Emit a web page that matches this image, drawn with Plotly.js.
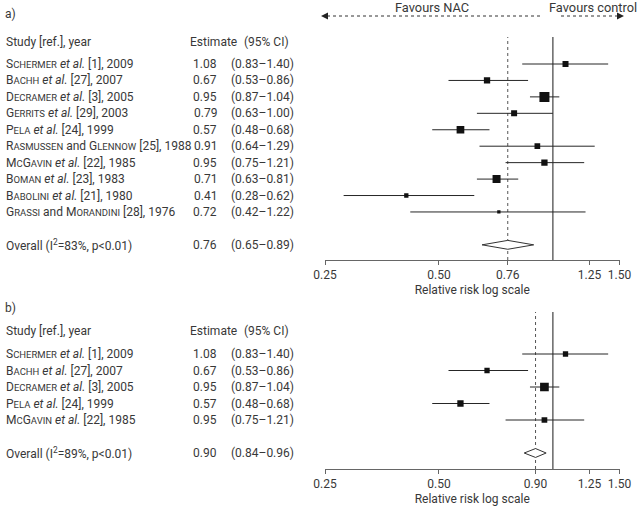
<!DOCTYPE html>
<html>
<head>
<meta charset="utf-8">
<script src="https://cdn.plot.ly/plotly-3.0.1.min.js"></script>
<style>html,body{margin:0;padding:0;background:#fff;}#chart{width:640px;height:506px;}</style>
</head>
<body>
<div id="chart"></div>
<script>
// ---------- Data: panel a ----------
const studiesA = ["Schermer et al. [1], 2009", "Bachh et al. [27], 2007", "Decramer et al. [3], 2005",
  "Gerrits et al. [29], 2003", "Pela et al. [24], 1999", "Rasmussen and Glennow [25], 1988",
  "McGavin et al. [22], 1985", "Boman et al. [23], 1983", "Babolini et al. [21], 1980",
  "Grassi and Morandini [28], 1976"];
const estA = [1.08, 0.67, 0.95, 0.79, 0.57, 0.91, 0.95, 0.71, 0.41, 0.72];
const loA  = [0.83, 0.53, 0.87, 0.63, 0.48, 0.64, 0.75, 0.63, 0.28, 0.42];
const hiA  = [1.40, 0.86, 1.04, 1.00, 0.68, 1.29, 1.21, 0.81, 0.62, 1.22];
const weightA = [6.0, 6.3, 10.0, 6.0, 7.7, 5.7, 6.3, 8.0, 4.3, 3.3];
const overallEstA = 0.76, overallLoA = 0.65, overallHiA = 0.89, i2A = 83;
const ticksA = [0.25, 0.50, 0.76, 1.25, 1.50];

// ---------- Data: panel b ----------
const studiesB = ["Schermer et al. [1], 2009", "Bachh et al. [27], 2007", "Decramer et al. [3], 2005",
  "Pela et al. [24], 1999", "McGavin et al. [22], 1985"];
const estB = [1.08, 0.67, 0.95, 0.57, 0.95];
const loB  = [0.83, 0.53, 0.87, 0.48, 0.75];
const hiB  = [1.40, 0.86, 1.04, 0.68, 1.21];
const weightB = [5.3, 5.3, 8.7, 6.3, 5.7];
const overallEstB = 0.90, overallLoB = 0.84, overallHiB = 0.96, i2B = 89;
const ticksB = [0.25, 0.50, 0.90, 1.25, 1.50];

// ---------- Helpers ----------
const W = 640, H = 506;
const px = x => x / W;
const py = y => 1 - y / H;
const FONT = "Roboto, 'Open Sans', sans-serif";
const TXT = "#383838";
const FS = 12;
const SC = 9.5; // small caps size

function smallCaps(word) {
  let out = "";
  const runs = word.match(/[A-Z]+|[a-z]+/g) || [];
  runs.forEach(r => {
    if (r === r.toUpperCase()) out += r;
    else out += "<span style='font-size:" + SC + "px'>" + r.toUpperCase() + "</span>";
  });
  return out;
}
function fmtLabel(s) {
  const idx = s.indexOf("[");
  let head = s.slice(0, idx), tail = s.slice(idx);
  head = head.replace("et al.", "<i>et al.</i>");
  head = head.replace(/\b([A-Z][A-Za-z]+)\b/g, m => smallCaps(m));
  return head + tail;
}
const f2 = v => v.toFixed(2);

const traces = [];
const annotations = [];
const shapes = [];

function buildPanel(opts) {
  const {studies, est, lo, hi, weight, oEst, oLo, oHi, i2, xa, ya, yName, overallRow} = opts;
  const rows = studies.map((_, i) => i);
  // CI lines (null-separated segments)
  const cx = [], cy = [];
  rows.forEach(i => { cx.push(lo[i], hi[i], null); cy.push(i, i, null); });
  traces.push({
    type: "scatter", mode: "lines", xaxis: xa, yaxis: ya, x: cx, y: cy,
    line: {color: "#262626", width: 1}, connectgaps: false,
    hoverinfo: "skip", showlegend: false
  });
  traces.push({
    type: "scatter", mode: "markers", xaxis: xa, yaxis: ya,
    x: est, y: rows,
    marker: {symbol: "square", color: "#111111", size: weight, line: {width: 0}, opacity: 1},
    hoverinfo: "skip", showlegend: false
  });
  const h = 0.27;
  traces.push({
    type: "scatter", mode: "lines", xaxis: xa, yaxis: ya,
    x: [oLo, oEst, oHi, oEst, oLo], y: [overallRow, overallRow - h, overallRow, overallRow + h, overallRow],
    fill: "toself", fillcolor: "#ffffff", line: {color: "#333", width: 1},
    hoverinfo: "skip", showlegend: false
  });
  // text columns
  const all = studies.map((s, i) => ({lab: fmtLabel(s), e: est[i], l: lo[i], u: hi[i], r: i}));
  all.push({lab: "Overall (I<sup>2</sup>=" + i2 + "%, p&lt;0.01)", e: oEst, l: oLo, u: oHi, r: overallRow});
  all.forEach(d => {
    annotations.push({xref: "paper", yref: yName, x: px(4), y: d.r, xanchor: "left", yanchor: "middle",
      text: d.lab, showarrow: false, font: {family: FONT, size: FS, color: TXT}});
    annotations.push({xref: "paper", yref: yName, x: px(219), y: d.r, xanchor: "right", yanchor: "middle",
      text: f2(d.e), showarrow: false, font: {family: FONT, size: FS, color: TXT}});
    annotations.push({xref: "paper", yref: yName, x: px(229), y: d.r, xanchor: "left", yanchor: "middle",
      text: "(" + f2(d.l) + "–" + f2(d.u) + ")", showarrow: false, font: {family: FONT, size: FS, color: TXT}});
  });
  // reference lines
  shapes.push({type: "line", xref: xa, yref: ya + " domain", x0: 1, x1: 1, y0: 0, y1: 1,
    line: {color: "#666", width: 1.5}, layer: "below"});
  shapes.push({type: "line", xref: xa, yref: ya + " domain", x0: oEst, x1: oEst, y0: 0, y1: 1,
    line: {color: "#555", width: 1, dash: "dot"}, layer: "below"});
}

buildPanel({studies: studiesA, est: estA, lo: loA, hi: hiA, weight: weightA,
  oEst: overallEstA, oLo: overallLoA, oHi: overallHiA, i2: i2A, xa: "x", ya: "y", yName: "y", overallRow: 11});
buildPanel({studies: studiesB, est: estB, lo: loB, hi: hiB, weight: weightB,
  oEst: overallEstB, oLo: overallLoB, oHi: overallHiB, i2: i2B, xa: "x2", ya: "y2", yName: "y2", overallRow: 6});

// headers
function header(label, y) {
  annotations.push({xref: "paper", yref: "paper", x: px(3), y: py(y.lab), xanchor: "left", yanchor: "middle",
    text: label, showarrow: false, font: {family: FONT, size: FS, color: TXT}});
  annotations.push({xref: "paper", yref: "paper", x: px(4), y: py(y.head), xanchor: "left", yanchor: "middle",
    text: "Study [ref.], year", showarrow: false, font: {family: FONT, size: FS, color: TXT}});
  annotations.push({xref: "paper", yref: "paper", x: px(188), y: py(y.head), xanchor: "left", yanchor: "middle",
    text: "Estimate", showarrow: false, font: {family: FONT, size: FS, color: TXT}});
  annotations.push({xref: "paper", yref: "paper", x: px(242), y: py(y.head), xanchor: "left", yanchor: "middle",
    text: "(95% CI)", showarrow: false, font: {family: FONT, size: FS, color: TXT}});
}
header("a)", {lab: 14, head: 42});
header("b)", {lab: 308, head: 331});

// favours arrows
annotations.push({xref: "paper", yref: "paper", x: px(432), y: py(7), xanchor: "center", yanchor: "middle",
  text: "Favours NAC", showarrow: false, font: {family: FONT, size: 12.8, color: TXT}});
annotations.push({xref: "paper", yref: "paper", x: px(593), y: py(7), xanchor: "center", yanchor: "middle",
  text: "Favours control", showarrow: false, font: {family: FONT, size: 12.8, color: TXT}});
shapes.push({type: "line", xref: "paper", yref: "paper", x0: px(327), x1: px(542), y0: py(16), y1: py(16),
  line: {color: "#333", width: 1, dash: "dot"}});
shapes.push({type: "line", xref: "paper", yref: "paper", x0: px(561), x1: px(618), y0: py(16), y1: py(16),
  line: {color: "#333", width: 1, dash: "dot"}});
shapes.push({type: "path", xref: "paper", yref: "paper",
  path: `M ${px(321)} ${py(16)} L ${px(328)} ${py(12.5)} L ${px(328)} ${py(19.5)} Z`,
  fillcolor: "#222", line: {width: 0}});
shapes.push({type: "path", xref: "paper", yref: "paper",
  path: `M ${px(624)} ${py(16)} L ${px(617)} ${py(12.5)} L ${px(617)} ${py(19.5)} Z`,
  fillcolor: "#222", line: {width: 0}});

function xAxis(ticks, yDomainAnchor) {
  return {
    type: "log", domain: [px(325), px(619.5)],
    range: [Math.log10(0.25), Math.log10(1.5)],
    tickvals: ticks, ticktext: ticks.map(f2),
    showline: true, linecolor: "#666", linewidth: 1,
    ticks: "outside", ticklen: 4, tickcolor: "#666", tickwidth: 1,
    showgrid: false, zeroline: false,
    tickfont: {family: FONT, size: FS, color: TXT},
    title: {text: "Relative risk log scale", font: {family: FONT, size: FS, color: TXT}, standoff: 4},
    anchor: yDomainAnchor, fixedrange: true
  };
}

const rowPx = 16.44;
const layout = {
  width: W, height: H,
  margin: {l: 0, r: 0, t: 0, b: 0},
  paper_bgcolor: "#fff", plot_bgcolor: "rgba(0,0,0,0)",
  showlegend: false,
  xaxis: xAxis(ticksA, "y"),
  yaxis: {domain: [py(260), py(37)], range: [(260 - 64) / rowPx, (37 - 64) / rowPx],
    visible: false, fixedrange: true},
  xaxis2: xAxis(ticksB, "y2"),
  yaxis2: {domain: [py(469), py(312)], range: [(469 - 354) / 16.5, (312 - 354) / 16.5],
    visible: false, fixedrange: true},
  annotations: annotations,
  shapes: shapes
};

Plotly.newPlot("chart", traces, layout, {displayModeBar: false, staticPlot: true});
</script>
</body>
</html>
